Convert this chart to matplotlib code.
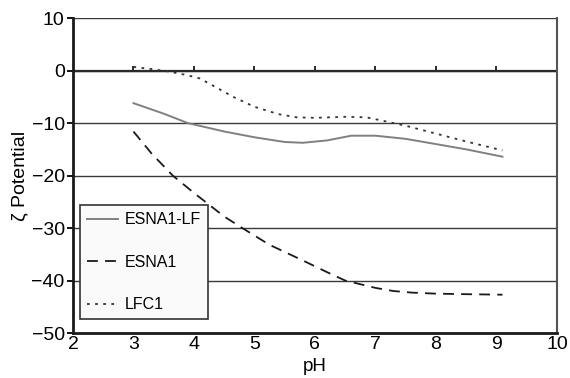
import matplotlib
matplotlib.use("Agg")
import matplotlib.pyplot as plt

plt.rcParams['font.family'] = ['Liberation Sans', 'DejaVu Sans']

# Data
ph_lf = [3.0, 3.5, 3.9, 4.5, 5.0, 5.5, 5.8, 6.2, 6.6, 7.0, 7.5, 8.0, 8.5, 9.1]
esna1_lf = [-6.2, -8.2, -10.0, -11.6, -12.7, -13.6, -13.75, -13.3, -12.4, -12.4, -13.0, -14.0, -15.0, -16.4]

ph_esna = [3.0, 3.3, 3.65, 4.0, 4.5, 4.8, 5.25, 5.75, 6.2, 6.5, 7.0, 7.3, 7.6, 8.0, 8.5, 9.1]
esna1 = [-11.6, -15.8, -20.0, -23.3, -27.8, -30.0, -33.2, -35.9, -38.4, -40.0, -41.4, -42.0, -42.3, -42.5, -42.6, -42.7]

ph_lfc = [3.0, 3.3, 3.6, 3.9, 4.1, 4.4, 4.65, 5.0, 5.4, 5.7, 6.0, 6.5, 6.85, 7.1, 7.5, 8.0, 8.5, 9.1]
lfc1 = [0.7, 0.3, -0.2, -0.9, -1.5, -3.4, -5.0, -6.9, -8.3, -8.9, -9.0, -8.8, -8.9, -9.5, -10.5, -12.0, -13.5, -15.2]

xticks = [2, 3, 4, 5, 6, 7, 8, 9, 10]
yticks = [-50, -40, -30, -20, -10, 0, 10]

fig = plt.figure(figsize=(5.7, 3.78), dpi=100)
ax = fig.add_axes([0.128, 0.119, 0.849, 0.833])

# gridlines
for y in yticks[1:]:
    ax.axhline(y, color='#3a3a3a', linewidth=1.0, zorder=1)
ax.axhline(0, color='#2a2a2a', linewidth=1.6, zorder=1)
# small ticks on the zero line
ax.vlines(xticks[1:], 0, 0.8, color='#2a2a2a', linewidth=1.4, zorder=1)

ax.plot(ph_lf, esna1_lf, color='#808080', linewidth=1.4, label='ESNA1-LF', zorder=3)
ax.plot(ph_esna, esna1, color='#1a1a1a', linewidth=1.3, linestyle=(0, (6, 4)), label='ESNA1', zorder=3)
ax.plot(ph_lfc, lfc1, color='#333333', linewidth=1.3, linestyle=(0, (1.5, 3)), label='LFC1', zorder=3)

ax.set_xlim(2, 10)
ax.set_ylim(-50, 10)
ax.set_xticks(xticks)
ax.set_yticks(yticks)
ax.set_yticklabels(['\u221250', '\u221240', '\u221230', '\u221220', '\u221210', '0', '10'])
ax.tick_params(axis='x', length=0, labelsize=14, pad=2)
ax.tick_params(axis='y', length=4, width=1.3, labelsize=14, pad=2)

ax.spines['left'].set_linewidth(2.0)
ax.spines['left'].set_color('#1a1a1a')
ax.spines['bottom'].set_linewidth(2.0)
ax.spines['bottom'].set_color('#1a1a1a')
ax.spines['right'].set_linewidth(1.5)
ax.spines['right'].set_color('#555555')
ax.spines['top'].set_visible(False)

ax.set_xlabel('pH', fontsize=13.5, labelpad=4)
ax.set_ylabel('\u03b6 Potential', fontsize=14, labelpad=2)

leg = ax.legend(loc='lower left', bbox_to_anchor=(0.0145, 0.044), borderaxespad=0,
                fancybox=False, edgecolor='#333333', fontsize=11.5, labelspacing=1.72,
                handlelength=1.95, handletextpad=0.44, borderpad=0.44)
leg.get_frame().set_linewidth(1.2)
leg.get_frame().set_facecolor('#fafafa')
leg.get_frame().set_alpha(1)

fig.savefig('out.png', dpi=100)
